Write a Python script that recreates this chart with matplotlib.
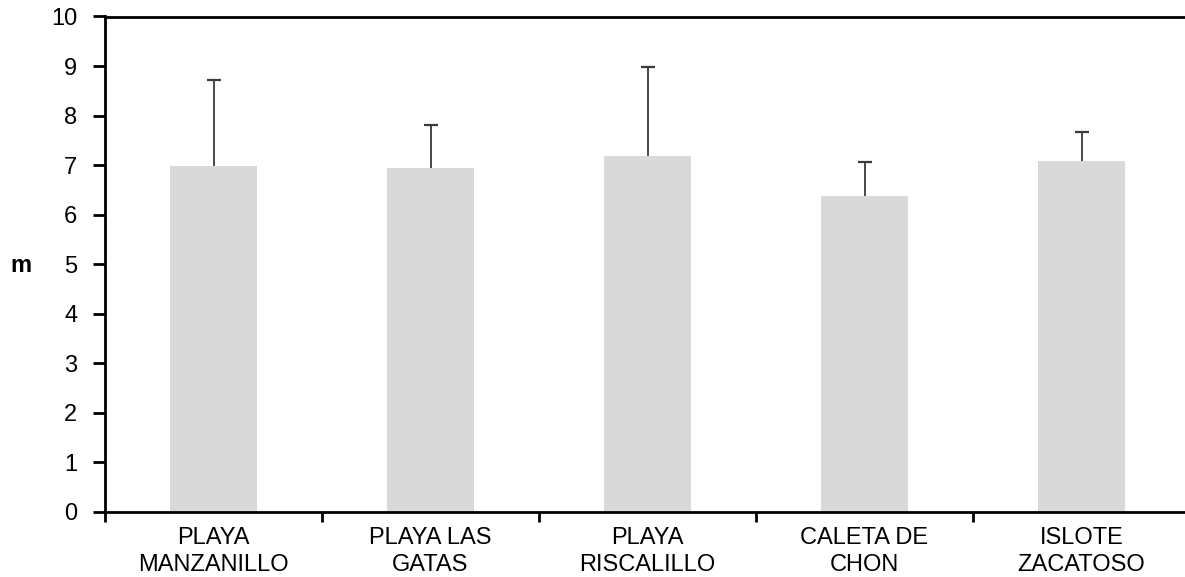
import matplotlib
matplotlib.use("Agg")
import matplotlib.pyplot as plt
import numpy as np

plt.rcParams['font.family'] = ['Liberation Sans', 'DejaVu Sans']

categories = ["PLAYA\nMANZANILLO", "PLAYA LAS\nGATAS", "PLAYA\nRISCALILLO",
              "CALETA DE\nCHON", "ISLOTE\nZACATOSO"]
means = [6.98, 6.94, 7.18, 6.38, 7.08]
upper_err = [1.74, 0.88, 1.81, 0.69, 0.58]
y_ticks = [0, 1, 2, 3, 4, 5, 6, 7, 8, 9, 10]

W, H = 1185, 577
fig = plt.figure(figsize=(W / 100, H / 100), dpi=100)
ax = fig.add_axes([105 / W, (H - 512) / H, 1085 / W, (512 - 16.5) / H])

x = np.arange(len(categories))
means_arr = np.array(means)
err_arr = np.array(upper_err)

ax.bar(x, means_arr, width=0.4, color="#d9d9d9", zorder=2)
# one-sided (upper) error bars: stem from the bar top plus a cap at the end
ax.errorbar(x, means_arr, yerr=[np.zeros(len(means)), err_arr], fmt="none",
            ecolor="#3a3a3a", elinewidth=1.3, capsize=0, zorder=3)
ax.plot(x, means_arr + err_arr, linestyle="none", marker="_", markersize=10.5,
        markeredgewidth=1.6, color="#3a3a3a", zorder=3)

ax.set_xlim(-0.5, len(categories) - 0.5)
ax.set_ylim(0, 10)
ax.set_yticks(y_ticks)
ax.set_yticklabels([str(v) for v in y_ticks], fontsize=17)

# category names sit between the boundary ticks
ax.set_xticks(np.arange(len(categories) + 1) - 0.5)
ax.set_xticklabels([])
ax.set_xticks(x, minor=True)
ax.set_xticklabels(categories, minor=True, fontsize=17, linespacing=1.3)
ax.tick_params(axis="x", which="minor", length=0, pad=11)
ax.tick_params(axis="x", which="major", length=7, width=2, direction="out")
ax.tick_params(axis="y", length=9, width=2, direction="out", pad=11)

for side in ("left", "bottom", "top"):
    ax.spines[side].set_linewidth(2)
    ax.spines[side].set_color("black")
ax.spines["right"].set_visible(False)

fig.text(21 / W, 1 - 266 / H, "m", fontsize=17, fontweight="bold",
         ha="center", va="center")

fig.savefig("out.png", dpi=100)
